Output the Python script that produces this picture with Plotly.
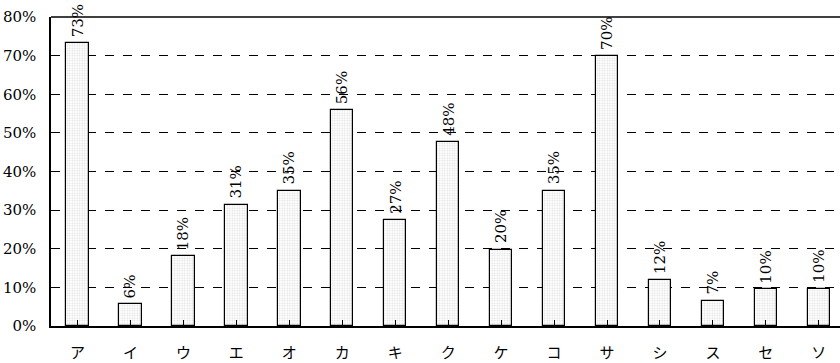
import plotly.graph_objects as go

categories = ["ア", "イ", "ウ", "エ", "オ", "カ", "キ", "ク", "ケ", "コ", "サ", "シ", "ス", "セ", "ソ"]
values = [73.2, 5.7, 18.0, 31.4, 35.0, 55.8, 27.4, 47.6, 19.8, 35.0, 69.8, 12.0, 6.6, 9.5, 9.7]
labels = ["73%", "6%", "18%", "31%", "35%", "56%", "27%", "48%", "20%", "35%", "70%", "12%", "7%", "10%", "10%"]
y_ticks = [0, 10, 20, 30, 40, 50, 60, 70, 80]
y_ticklabels = [f"{v}%" for v in y_ticks]

serif = "DejaVu Serif, Liberation Serif, serif"
cjk = "Noto Sans CJK JP, sans-serif"

xs = list(range(len(categories)))

fig = go.Figure()
fig.add_trace(go.Bar(
    x=xs,
    y=values,
    width=0.425,
    marker=dict(
        color="white",
        line=dict(color="black", width=1.2),
        pattern=dict(shape=".", size=2.5, solidity=0.3, fgcolor="#b8b8b8", bgcolor="white"),
    ),
))

for x, v, lab in zip(xs, values, labels):
    fig.add_annotation(
        x=x, y=v, text=lab, textangle=-90,
        xanchor="center", yanchor="bottom", yshift=4,
        showarrow=False,
        font=dict(family=serif, size=15, color="black"),
    )

fig.update_layout(
    width=840, height=363,
    margin=dict(l=51, r=0, t=17, b=37),
    plot_bgcolor="white", paper_bgcolor="white",
    showlegend=False,
    bargap=0,
)
fig.update_xaxes(
    range=[-0.5, 14.4],
    tickmode="array",
    tickvals=xs,
    ticktext=categories,
    tickfont=dict(family=cjk, size=15, color="black"),
    ticks="inside", ticklen=6, tickcolor="black", tickwidth=1,
    tickson="boundaries",
    ticklabelstandoff=12,
    showline=True, linecolor="black", linewidth=1.5,
    showgrid=False, zeroline=False,
)
fig.update_yaxes(
    range=[0, 80],
    tickmode="array",
    tickvals=y_ticks,
    ticktext=y_ticklabels,
    tickfont=dict(family=serif, size=15, color="black"),
    ticks="inside", ticklen=6, tickcolor="black",
    ticklabelstandoff=10,
    showline=True, linecolor="black", linewidth=1.5,
    showgrid=True, gridcolor="black", griddash="dash", gridwidth=1,
    zeroline=False,
)
fig.add_shape(type="line", xref="paper", yref="paper", x0=0, x1=1, y0=1, y1=1,
              line=dict(color="black", width=1.5))

fig.write_html("out.html")
